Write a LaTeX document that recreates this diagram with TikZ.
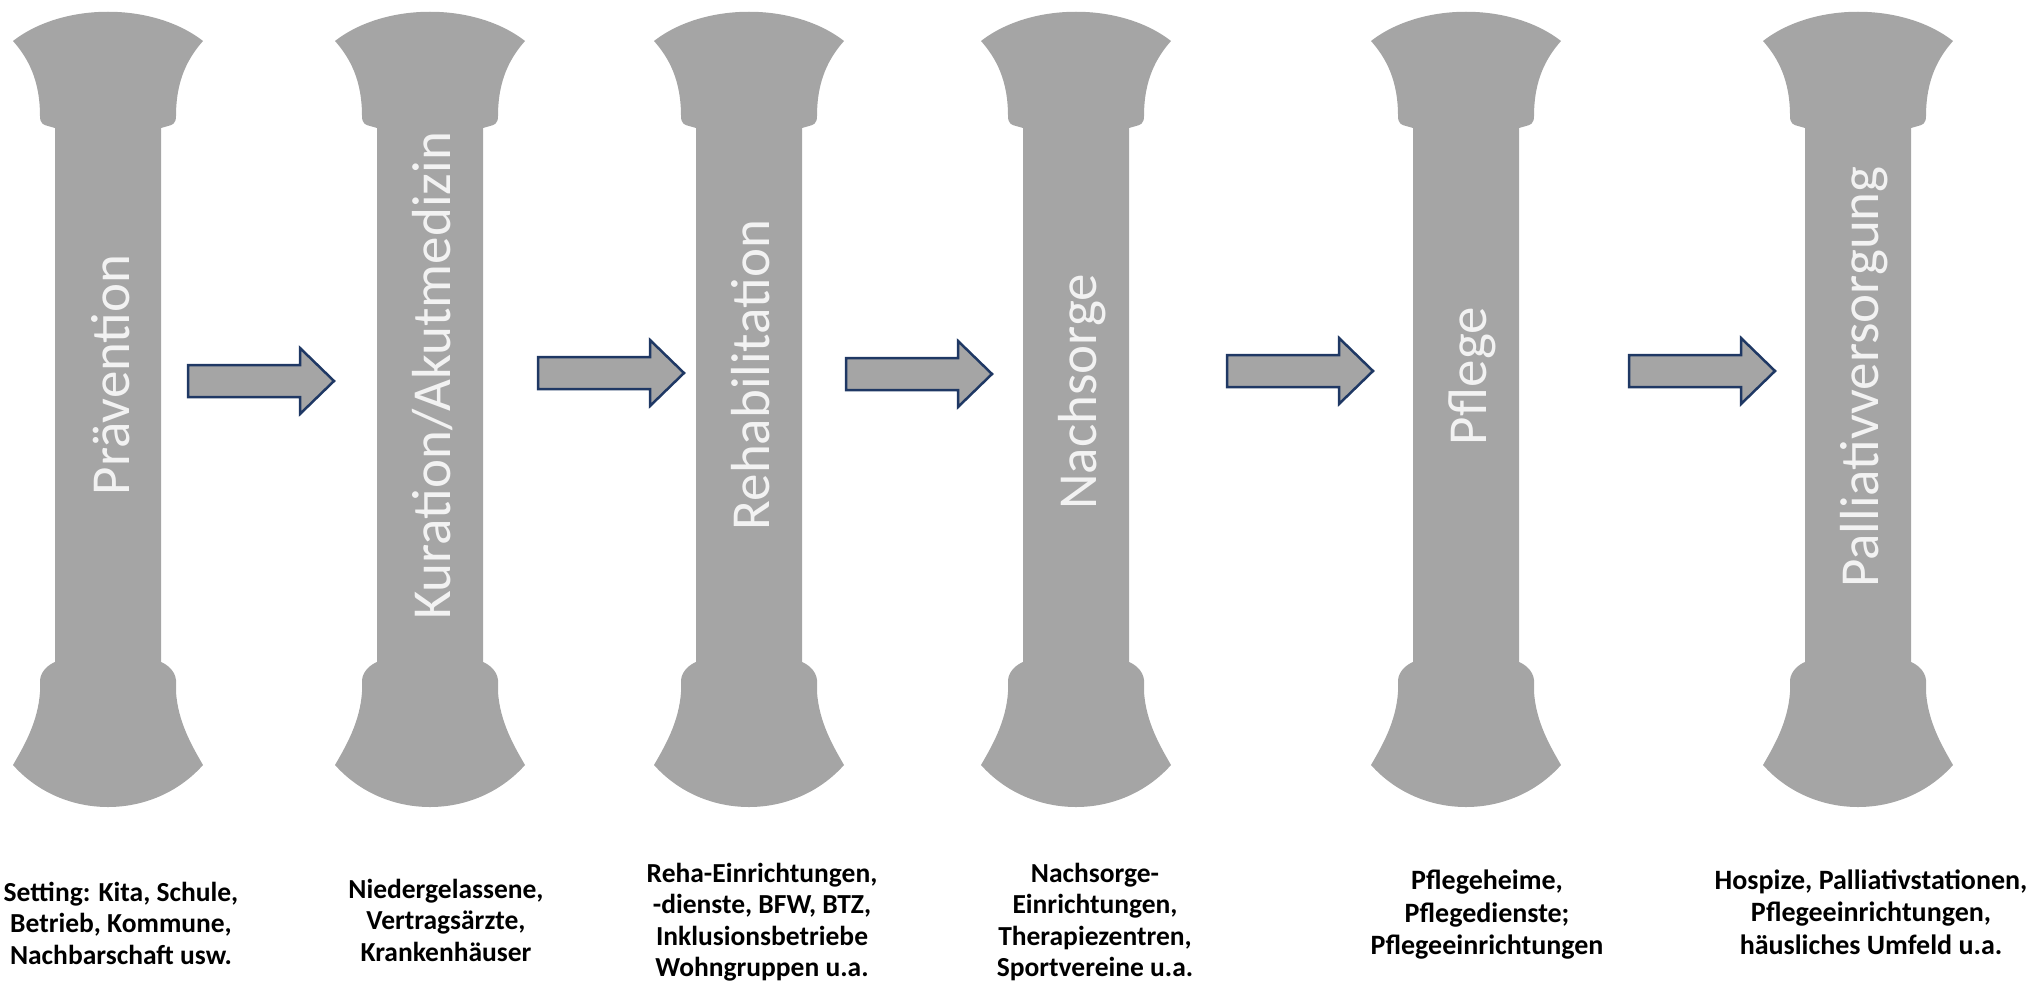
\documentclass[tikz,border=0pt]{standalone}
\usepackage{fontspec}
\setmainfont{Carlito}
\definecolor{pil}{HTML}{A5A5A5}
\definecolor{navy}{HTML}{1F3864}
\definecolor{lbl}{HTML}{F2F2F2}
\tikzset{
  pillarshape/.style={fill=pil, draw=none},
  arrowshape/.style={fill=pil, draw=navy, line width=2.5pt, line join=miter},
  pillarlabel/.style={rotate=90, anchor=base, text=lbl, font=\fontsize{55}{66}\selectfont, inner sep=0pt},
  infotext/.style={align=center, font=\fontsize{27.5}{31.5}\selectfont\bfseries, inner sep=0pt},
  infotextbig/.style={infotext, font=\fontsize{28}{32.5}\selectfont\bfseries},
}
\newcommand{\drawpillar}[1]{%
  \path[pillarshape, shift={(#1,0)}]
    (-95,41) .. controls (-45,2) and (45,2) .. (95,41)
    .. controls (80,58) and (68,80) .. (68,116)
    .. controls (68,124) and (64,125) .. (60,126)
    -- (53,128) -- (53,662)
    .. controls (58,664) and (67,670) .. (68,680)
    -- (68,692)
    .. controls (70,722) and (84,746) .. (95,765)
    .. controls (45,821) and (-45,821) .. (-95,765)
    .. controls (-84,746) and (-70,722) .. (-68,692)
    -- (-68,680)
    .. controls (-67,670) and (-58,664) .. (-53,662)
    -- (-53,128) -- (-60,126)
    .. controls (-64,125) and (-68,124) .. (-68,116)
    .. controls (-68,80) and (-80,58) .. (-95,41) -- cycle;}
\newcommand{\drawblockarrow}[2]{%
  \path[arrowshape, shift={(#1,#2)}]
    (0,-16) -- (112,-16) -- (112,-33) -- (146,0) -- (112,33) -- (112,16) -- (0,16) -- cycle;}
\begin{document}
\begin{tikzpicture}[x=1pt, y=-1pt]
\useasboundingbox (0,0) rectangle (2033,990);
% pillars
\drawpillar{108}
\drawpillar{430}
\drawpillar{749}
\drawpillar{1076}
\drawpillar{1466}
\drawpillar{1858}
% arrows
\drawblockarrow{188}{381}
\drawblockarrow{538}{373}
\drawblockarrow{846}{374}
\drawblockarrow{1227}{371}
\drawblockarrow{1629}{371}
% pillar labels
\node[pillarlabel] (p1) at (129,375) {Prävention};
\node[pillarlabel] (p2) at (450,376) {Kuration/Akutmedizin};
\node[pillarlabel] (p3) at (769,375) {Rehabilitation};
\node[pillarlabel] (p4) at (1096,392) {Nachsorge};
\node[pillarlabel] (p5) at (1486,376) {Pflege};
\node[pillarlabel] (p6) at (1878,377) {Palliativversorgung};
% bottom texts
\node[infotext] (t1) at (121,923) {Setting: Kita, Schule,\\Betrieb, Kommune,\\Nachbarschaft usw.};
\node[infotext] (t2) at (446,920) {Niedergelassene,\\Vertragsärzte,\\Krankenhäuser};
\node[infotext] (t3) at (762,922) {Reha-Einrichtungen,\\-dienste, BFW, BTZ,\\Inklusionsbetriebe\\Wohngruppen u.a.};
\node[infotext] (t4) at (1095,922) {Nachsorge-\\Einrichtungen,\\Therapiezentren,\\Sportvereine u.a.};
\node[infotextbig] (t5) at (1487,915) {Pflegeheime,\\Pflegedienste;\\Pflegeeinrichtungen};
\node[infotextbig] (t6) at (1871,912) {Hospize, Palliativstationen,\\Pflegeeinrichtungen,\\häusliches Umfeld u.a.};
\end{tikzpicture}
\end{document}
